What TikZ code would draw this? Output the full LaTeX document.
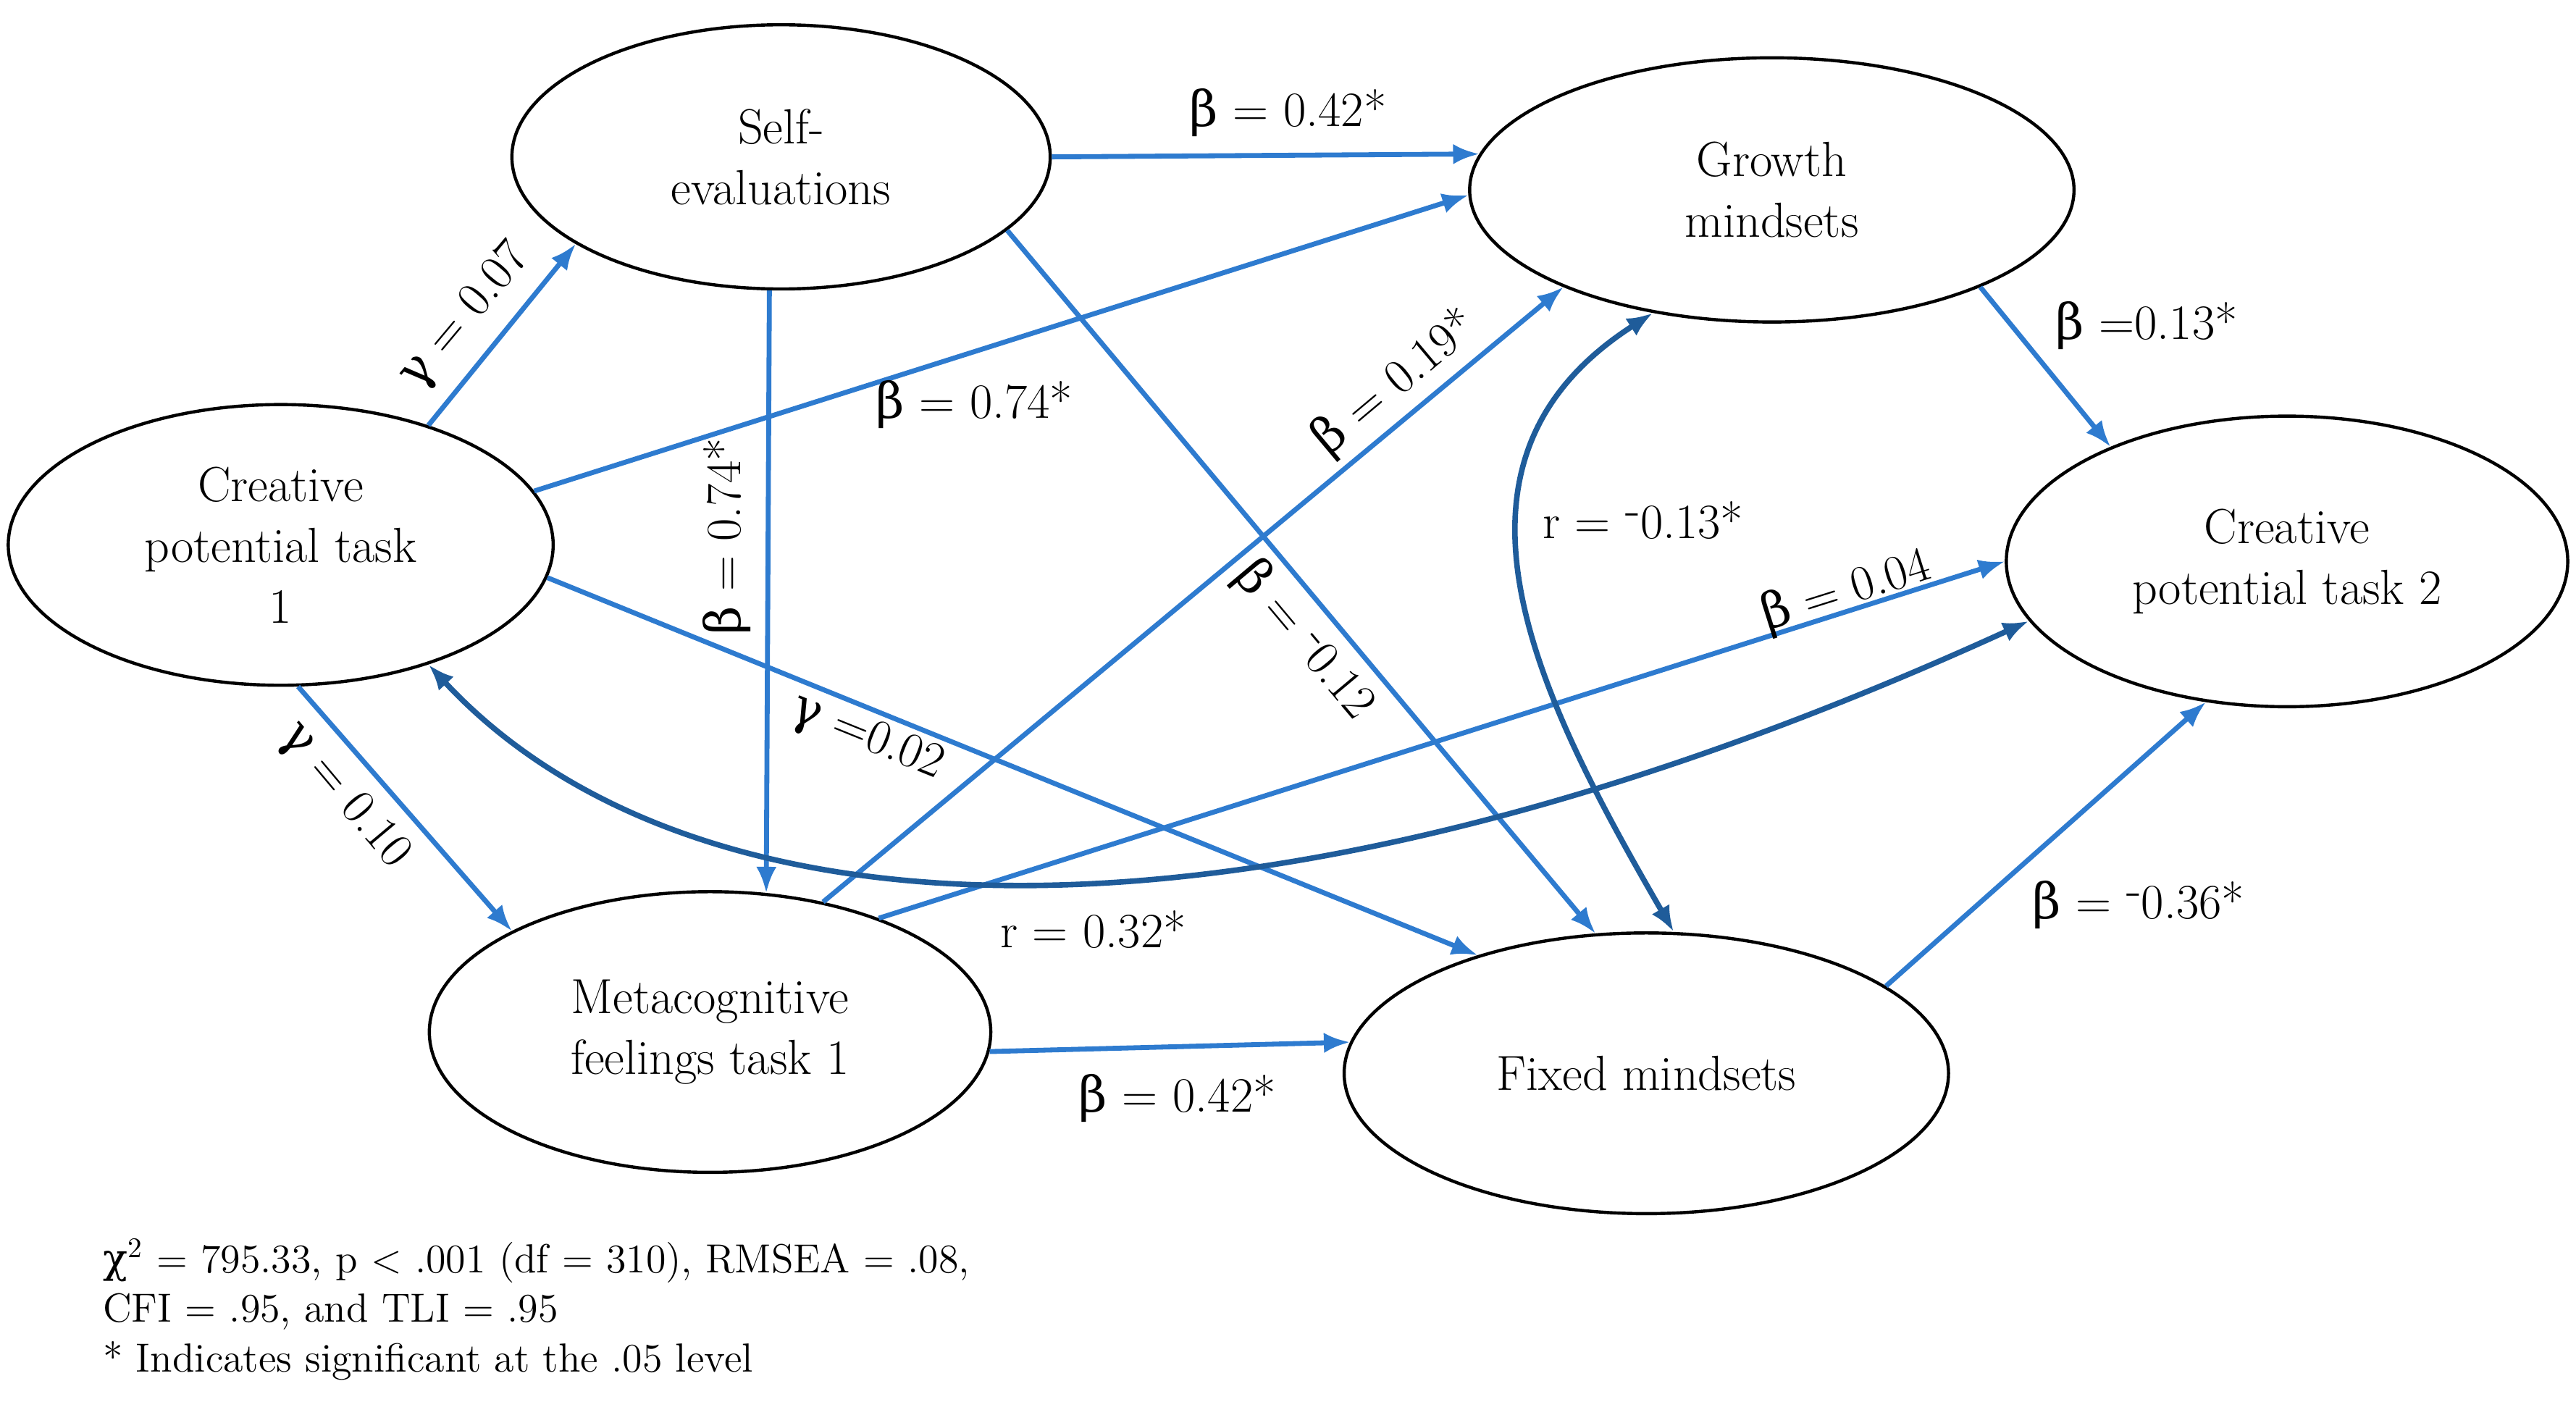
\documentclass[tikz,border=0pt]{standalone}
\usepackage{fontspec}
\newfontfamily\grk{DejaVu Serif}
\newcommand{\bt}{{\grk β}}
\newcommand{\gm}{{\grk γ}}
\usetikzlibrary{shapes.geometric,arrows.meta}
\definecolor{lb}{HTML}{2E7BCF}
\definecolor{db}{HTML}{1F5C9A}
\begin{document}
\begin{tikzpicture}[x=0.02cm,y=-0.02cm,
 el/.style={ellipse,draw=black,line width=1.1pt,minimum width=#1,align=center,font=\fontsize{17}{21}\selectfont},
 ar/.style={draw=lb,line width=1.7pt,-{Latex[length=9pt,width=7pt]}},
 dar/.style={draw=db,line width=1.9pt,{Latex[length=9pt,width=7pt]}-{Latex[length=9pt,width=7pt]}},
 lab/.style={font=\fontsize{17}{21}\selectfont,inner sep=1pt}]
\useasboundingbox (0,0) rectangle (1560,849);
\node[el,minimum width=326*0.02cm,minimum height=160*0.02cm] (se) at (473,95) {Self-\\evaluations};
\node[el,minimum width=366*0.02cm,minimum height=160*0.02cm] (gm) at (1073,115) {Growth\\mindsets};
\node[el,minimum width=330*0.02cm,minimum height=170*0.02cm] (c1) at (170,330) {Creative\\potential task\\1};
\node[el,minimum width=340*0.02cm,minimum height=176*0.02cm] (c2) at (1385,340) {Creative\\potential task 2};
\node[el,minimum width=340*0.02cm,minimum height=170*0.02cm] (mf) at (430,625) {Metacognitive\\feelings task 1};
\node[el,minimum width=366*0.02cm,minimum height=170*0.02cm] (fm) at (997,650) {Fixed mindsets};

\draw[ar] (se.0) -- (gm.173.7);
\draw[ar] (c1.39) -- (se.203);
\draw[ar] (c1.12) -- (gm.181);
\draw[ar] (se.265) -- (mf.68);
\draw[ar] (se.342) -- (fm.110);
\draw[ar] (mf.49) -- (gm.205);
\draw[ar] (c1.353) -- (fm.145);
\draw[ar] (c1.277) -- (mf.153);
\draw[ar] (mf.34) -- (c2.180);
\draw[ar] (mf.356) -- (fm.174.6);
\draw[ar] (gm.335) -- (c2.147.5);
\draw[ar] (fm.20) -- (c2.240);
\draw[dar] (c1.321) .. controls (420,575) and (760,590) .. (c2.193);
\draw[dar] (gm.226) .. controls (860,280) and (930,420) .. (fm.79);

\node[lab] (l1) at (780,68) {\bt{} = 0.42*};
\node[lab,rotate=50] (l2) at (282,192) {\gm{} = 0.07};
\node[lab] (l3) at (590,245) {\bt{} = 0.74*};
\node[lab,rotate=90] (l4) at (440,325) {\bt{} = 0.74*};
\node[lab,rotate=-50] (l5) at (790,388) {\bt{} = \raisebox{.6ex}{-}0.12};
\node[lab,rotate=40] (l6) at (845,232) {\bt{} = 0.19*};
\node[lab,rotate=-22] (l7) at (525,447) {\gm{} =0.02};
\node[lab,rotate=-50] (l8) at (208,482) {\gm{} = 0.10};
\node[lab,rotate=17.5] (l9) at (1118,358) {\bt{} = 0.04};
\node[lab] (l10) at (713,665) {\bt{} = 0.42*};
\node[lab] (l11) at (1300,197) {\bt{} =0.13*};
\node[lab] (l12) at (1295,548) {\bt{} = \raisebox{.6ex}{-}0.36*};
\node[lab] (l13) at (662,563) {r = 0.32*};
\node[lab] (l14) at (995,315) {r = \raisebox{.6ex}{-}0.13*};
\node[anchor=west,align=left,font=\fontsize{14}{17}\selectfont,inner sep=0pt] (ft) at (62,793) {{\grk χ}\textsuperscript{2} = 795.33, p < .001 (df = 310), RMSEA = .08,\\CFI = .95, and TLI = .95\\* Indicates significant at the .05 level};
\end{tikzpicture}
\end{document}
